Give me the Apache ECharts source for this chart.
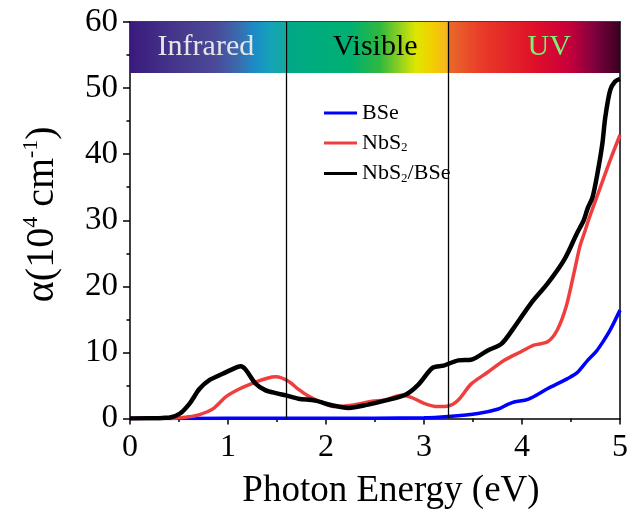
<!DOCTYPE html>
<html>
<head>
<meta charset="utf-8">
<script src="https://cdn.jsdelivr.net/npm/echarts@6/dist/echarts.min.js"></script>
<style>html,body{margin:0;padding:0;background:#fff}#c{width:631px;height:515px}</style>
</head>
<body>
<div id="c"></div>
<script>
var seriesNames = ['BSe', 'NbS2', 'NbS2/BSe'];
var bseData = [[0,0],[1,0.02],[2,0.04],[3,0.1],[3.25,0.3],[3.55,0.75],[3.75,1.4],[3.85,2.1],[3.92,2.5],[4.06,2.9],[4.26,4.5],[4.46,6.0],[4.56,6.9],[4.67,8.8],[4.76,10.2],[4.83,11.7],[4.9,13.4],[5.0,16.4]];
var nbs2Data = [[0,0],[0.4,0],[0.5,0.1],[0.6,0.25],[0.71,0.6],[0.85,1.5],[0.98,3.3],[1.12,4.5],[1.28,5.5],[1.4,6.1],[1.49,6.3],[1.62,5.6],[1.72,4.4],[1.82,3.4],[1.93,2.6],[2.09,1.8],[2.26,2.0],[2.47,2.6],[2.6,2.8],[2.77,3.5],[2.87,3.2],[3.0,2.3],[3.14,1.8],[3.25,1.9],[3.35,2.8],[3.48,5.2],[3.65,7.0],[3.82,8.8],[3.99,10.1],[4.12,11.1],[4.26,11.6],[4.36,13.4],[4.45,16.9],[4.53,22.0],[4.59,26.0],[4.63,27.8],[4.69,30.5],[4.8,35.0],[4.9,39.1],[5.0,42.9]];
var heteroData = [[0,0],[0.2,0.02],[0.35,0.1],[0.41,0.15],[0.51,0.75],[0.61,2.3],[0.71,4.5],[0.81,5.8],[0.95,6.8],[1.1,7.8],[1.13,7.9],[1.18,7.4],[1.28,5.3],[1.38,4.3],[1.5,3.8],[1.59,3.5],[1.72,3.0],[1.89,2.7],[2.06,2.0],[2.23,1.6],[2.43,2.1],[2.6,2.7],[2.81,3.6],[2.94,5.1],[3.09,7.7],[3.2,8.0],[3.35,8.8],[3.48,8.9],[3.65,10.3],[3.79,11.3],[3.92,13.8],[4.09,17.4],[4.26,20.4],[4.43,24.0],[4.56,28.0],[4.63,30.0],[4.67,31.8],[4.72,33.5],[4.77,37.1],[4.82,41.6],[4.85,45.6],[4.9,49.7],[4.95,51.0],[5.0,51.4]];
var regionNames = ['Infrared', 'Visible', 'UV'];
var regionBounds = [0, 1.59, 3.25, 5];
var bandBottom = 52.3;
var xTicks = [0, 1, 2, 3, 4, 5];
var yTicks = [0, 10, 20, 30, 40, 50, 60];

var FONT = 'Liberation Serif';
var G = echarts.graphic.LinearGradient;
var grads = [
  new G(0,0,1,0,[{offset:0,color:'#3a1a7c'},{offset:0.3,color:'#45378c'},{offset:0.55,color:'#4b4a98'},{offset:0.7,color:'#3a6cb0'},{offset:0.8,color:'#1a8cc6'},{offset:0.9,color:'#16a2b8'},{offset:1,color:'#12a8a0'}]),
  new G(0,0,1,0,[{offset:0,color:'#00a888'},{offset:0.4,color:'#00b070'},{offset:0.58,color:'#30b840'},{offset:0.7,color:'#90d020'},{offset:0.8,color:'#e0e600'},{offset:0.9,color:'#f2d000'},{offset:1,color:'#f8b024'}]),
  new G(0,0,1,0,[{offset:0,color:'#e86a2a'},{offset:0.2,color:'#e83a28'},{offset:0.5,color:'#e0102a'},{offset:0.7,color:'#c8003a'},{offset:0.85,color:'#800040'},{offset:1,color:'#3a0020'}])
];
var labelColors = ['#e6e6e6', '#000000', '#7ef07a'];
var labelOffsets = [[-2,0],[8,0],[15,0]];

var areas = regionNames.map(function(n, i){
  return [{
    name: n, xAxis: regionBounds[i], yAxis: bandBottom,
    itemStyle: {color: grads[i]},
    label: {show:true, position:'inside', formatter:'{b}', color: labelColors[i], fontSize:30, fontFamily:FONT, offset: labelOffsets[i]}
  }, {xAxis: regionBounds[i+1], yAxis: 60}];
});

var chart = echarts.init(document.getElementById('c'));
chart.setOption({
  animation: false,
  grid: {left:130, right:7.5, top:22, bottom:96.5, containLabel:false},
  legend: {
    data: seriesNames, orient:'vertical', left:319, top:97, icon:'rect', itemWidth:33, itemHeight:3, itemGap:8,
    formatter: function(name){
      if (name === 'NbS2') return '{n|NbS}{s|2}';
      if (name === 'NbS2/BSe') return '{n|NbS}{s|2}{n|/BSe}';
      return '{n|' + name + '}';
    },
    textStyle: {fontFamily:FONT, color:'#000', fontSize:22, rich:{
      n:{fontFamily:FONT, fontSize:22, lineHeight:23, color:'#000'},
      s:{fontFamily:FONT, fontSize:13, lineHeight:10, verticalAlign:'bottom', color:'#000'}
    }}
  },
  xAxis: [{
    type:'value', min:0, max:5, interval:1,
    name:'Photon Energy (eV)', nameLocation:'middle', nameGap:54,
    nameTextStyle:{fontFamily:FONT, fontSize:37, color:'#000', padding:[0,0,0,32]},
    axisLine:{show:true, onZero:false, lineStyle:{color:'#000', width:1.5}},
    axisTick:{show:true, inside:false, length:6, lineStyle:{color:'#000', width:1.5}},
    minorTick:{show:true, splitNumber:2, length:3.5, lineStyle:{color:'#000', width:1.5}},
    axisLabel:{fontFamily:FONT, fontSize:32, color:'#000', margin:13, formatter:function(v){return xTicks.indexOf(v)>=0 ? String(v) : '';}},
    splitLine:{show:false}
  },{
    type:'value', min:0, max:5, position:'top',
    axisLine:{show:true, onZero:false, lineStyle:{color:'#000', width:1.5}},
    axisTick:{show:false}, axisLabel:{show:false}, splitLine:{show:false}
  }],
  yAxis: [{
    type:'value', min:0, max:60, interval:10,
    name:'{a|α(10}{s|4}{a| cm}{s|-1}{a|)}', nameLocation:'middle', nameRotate:90, nameGap:66,
    nameTextStyle:{fontFamily:FONT, fontSize:40, color:'#000', padding:[0,0,0,12], rich:{
      a:{fontFamily:FONT, fontSize:40, lineHeight:44, color:'#000'},
      s:{fontFamily:FONT, fontSize:22, lineHeight:24, verticalAlign:'top', color:'#000'}
    }},
    axisLine:{show:true, onZero:false, lineStyle:{color:'#000', width:1.5}},
    axisTick:{show:true, inside:false, length:7, lineStyle:{color:'#000', width:1.5}},
    minorTick:{show:true, splitNumber:2, length:3.5, lineStyle:{color:'#000', width:1.5}},
    axisLabel:{fontFamily:FONT, fontSize:33, color:'#000', margin:12, formatter:function(v){return yTicks.indexOf(v)>=0 ? String(v) : '';}},
    splitLine:{show:false}
  },{
    type:'value', min:0, max:60, position:'right',
    axisLine:{show:true, onZero:false, lineStyle:{color:'#000', width:1.5}},
    axisTick:{show:false}, axisLabel:{show:false}, splitLine:{show:false}
  }],
  series: [{
    name:'BSe', type:'line', data:bseData, smooth:0.3, symbol:'none',
    lineStyle:{color:'#0000ff', width:3.5}, itemStyle:{color:'#0000ff'}, z:2,
    markArea:{silent:true, data:areas}
  },{
    name:'NbS2', type:'line', data:nbs2Data, smooth:0.3, symbol:'none',
    lineStyle:{color:'#ef3e3e', width:3.5}, itemStyle:{color:'#ef3e3e'}, z:3,
    markLine:{silent:true, symbol:'none', label:{show:false}, lineStyle:{color:'#000', width:1.3, type:'solid'},
      data:[{xAxis:regionBounds[1]},{xAxis:regionBounds[2]}]}
  },{
    name:'NbS2/BSe', type:'line', data:heteroData, smooth:0.3, symbol:'none',
    lineStyle:{color:'#000000', width:4.5}, itemStyle:{color:'#000000'}, z:4
  }]
});
</script>
</body>
</html>
